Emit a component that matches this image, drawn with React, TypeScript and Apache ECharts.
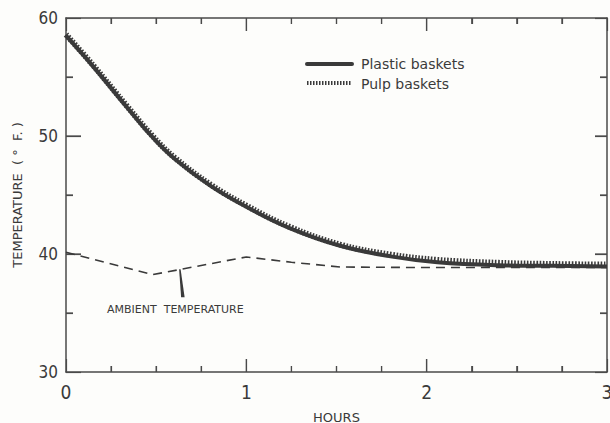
import React, { useEffect, useRef } from "react";
import * as echarts from "echarts";

const curveHours = [0, 0.15, 0.34, 0.48, 0.6, 0.8, 1.0, 1.24, 1.52, 1.8, 2.06, 2.4, 2.7, 3.0];
const pulpTemps = [58.6, 56.0, 52.5, 50.0, 48.2, 45.9, 44.1, 42.3, 40.8, 39.95, 39.5, 39.25, 39.15, 39.1];
const plasticTemps = [58.5, 55.9, 52.4, 49.9, 48.1, 45.8, 44.0, 42.2, 40.7, 39.8, 39.3, 39.05, 39.0, 38.95];
const ambientHours = [0, 0.48, 1.0, 1.25, 1.52, 2.0, 3.0];
const ambientTemps = [40.15, 38.25, 39.75, 39.3, 38.9, 38.85, 38.85];
const legendNames = ["Plastic baskets", "Pulp baskets"];
const xTitle = "HOURS";
const yTitle = "TEMPERATURE  ( °  F. )";
const noteText = "AMBIENT  TEMPERATURE";
const notePoint = [0.63, 38.7];
const xMajorTicks = [1, 2];
const xMinorTicks = [0.25, 0.5, 0.75, 1.25, 1.5, 1.75, 2.25, 2.5, 2.75];
const yMajorTicks = [40, 50];
const yMinorTicks = [35, 45, 55];

const INK = "#3a3a3a";
const AXIS = "#4a4a4a";
const COND = "'DejaVu Sans Condensed', 'DejaVu Sans', sans-serif";
const WIDE = "'DejaVu Sans', sans-serif";
const W = 610, H = 423;
const G = { left: 66, right: 3, top: 18, bottom: 51 };
const X_MIN = 0, X_MAX = 3, Y_MIN = 30, Y_MAX = 60;

const ticks = (len: number) => ({ show: true, inside: true, length: len, lineStyle: { color: AXIS, width: 1.2 } });
const minor = (n: number, len: number) => ({ show: true, splitNumber: n, length: len, lineStyle: { color: AXIS, width: 1.2 } });
const line = () => ({ show: true, onZero: false, lineStyle: { color: AXIS, width: 1.5 } });

export default function App() {
  const ref = useRef<HTMLDivElement>(null);
  useEffect(() => {
    const chart = echarts.init(ref.current!, undefined, { renderer: "svg" });
    const pair = (xs: number[], ys: number[]) => xs.map((x, i) => [x, ys[i]]);
    const pw = W - G.left - G.right;
    const ph = H - G.top - G.bottom;
    const toX = (v: number) => G.left + ((v - X_MIN) / (X_MAX - X_MIN)) * pw;
    const toY = (v: number) => G.top + ((Y_MAX - v) / (Y_MAX - Y_MIN)) * ph;
    const bottomY = G.top + ph;
    const rightX = G.left + pw;
    const tk = (x1: number, y1: number, x2: number, y2: number) => ({
      type: "line", silent: true, shape: { x1, y1, x2, y2 }, style: { stroke: AXIS, lineWidth: 1.2 },
    });
    const tickEls: any[] = [];
    xMajorTicks.forEach((v) => {
      tickEls.push(tk(toX(v), bottomY, toX(v), bottomY - 13));
      tickEls.push(tk(toX(v), G.top, toX(v), G.top + 13));
    });
    xMinorTicks.forEach((v) => {
      tickEls.push(tk(toX(v), bottomY, toX(v), bottomY - 6));
      tickEls.push(tk(toX(v), G.top, toX(v), G.top + 6));
    });
    yMajorTicks.forEach((v) => {
      tickEls.push(tk(G.left, toY(v), G.left + 15, toY(v)));
      tickEls.push(tk(rightX, toY(v), rightX - 12, toY(v)));
    });
    yMinorTicks.forEach((v) => {
      tickEls.push(tk(G.left, toY(v), G.left + 7, toY(v)));
      tickEls.push(tk(rightX, toY(v), rightX - 7, toY(v)));
    });
    const px = toX(notePoint[0]);
    const py = toY(notePoint[1]);
    chart.setOption({
      animation: false,
      backgroundColor: "#fdfdfb",
      grid: { ...G, containLabel: false, outerBoundsMode: "none" },
      xAxis: [
        {
          type: "value", min: X_MIN, max: X_MAX, interval: 1, position: "bottom",
          axisLine: line(), splitLine: { show: false },
          axisTick: ticks(13), minorTick: minor(4, 6),
          axisLabel: { show: true, color: INK, fontSize: 19, fontFamily: COND, margin: 10 },
          name: xTitle, nameLocation: "middle", nameGap: 39,
          nameTextStyle: { color: INK, fontSize: 13, fontFamily: WIDE },
        },
        {
          type: "value", min: X_MIN, max: X_MAX, interval: 1, position: "top",
          axisLine: line(), splitLine: { show: false },
          axisTick: ticks(13), minorTick: minor(4, 6),
          axisLabel: { show: false },
        },
      ],
      yAxis: [
        {
          type: "value", min: Y_MIN, max: Y_MAX, interval: 10, position: "left",
          axisLine: line(), splitLine: { show: false },
          axisTick: ticks(15), minorTick: minor(2, 7),
          axisLabel: { show: true, color: INK, fontSize: 17, fontFamily: COND, margin: 8 },
          name: yTitle, nameLocation: "middle", nameGap: 42,
          nameTextStyle: { color: INK, fontSize: 13, fontFamily: WIDE },
        },
        {
          type: "value", min: Y_MIN, max: Y_MAX, interval: 10, position: "right",
          axisLine: line(), splitLine: { show: false },
          axisTick: ticks(12), minorTick: minor(2, 7),
          axisLabel: { show: false },
        },
      ],
      series: [
        {
          name: "Ambient", type: "line", data: pair(ambientHours, ambientTemps),
          showSymbol: false, smooth: false,
          lineStyle: { color: INK, width: 1.6, type: [9, 6] },
        },
        {
          name: legendNames[0], type: "line", data: pair(curveHours, plasticTemps),
          showSymbol: false, smooth: 0.4,
          lineStyle: { color: INK, width: 4 },
        },
        {
          name: legendNames[1], type: "line", data: pair(curveHours, pulpTemps),
          showSymbol: false, smooth: 0.4,
          lineStyle: { color: INK, width: 6, type: [1.6, 1.6] },
        },
      ],
      graphic: [
        ...tickEls,
        { type: "line", shape: { x1: 307, y1: 64, x2: 352, y2: 64 }, style: { stroke: INK, lineWidth: 4, lineCap: "round" } },
        { type: "line", shape: { x1: 307, y1: 83, x2: 352, y2: 83 }, style: { stroke: INK, lineWidth: 4, lineDash: [1.5, 1.5] } },
        { type: "text", x: 361, y: 64, style: { text: legendNames[0], fill: INK, font: `14px ${WIDE}`, verticalAlign: "middle" } },
        { type: "text", x: 361, y: 84, style: { text: legendNames[1], fill: INK, font: `14px ${WIDE}`, verticalAlign: "middle" } },
        { type: "polygon", shape: { points: [[px - 0.5, py], [px + 1, py], [px + 5, py + 28], [px + 1.5, py + 28]] }, style: { fill: INK } },
        { type: "text", x: 107, y: 309, style: { text: noteText, fill: INK, font: `11px ${WIDE}`, verticalAlign: "middle" } },
      ],
    });
    return () => chart.dispose();
  }, []);
  return <div ref={ref} style={{ width: W, height: H, position: "absolute", left: 0, top: 0 }} />;
}
